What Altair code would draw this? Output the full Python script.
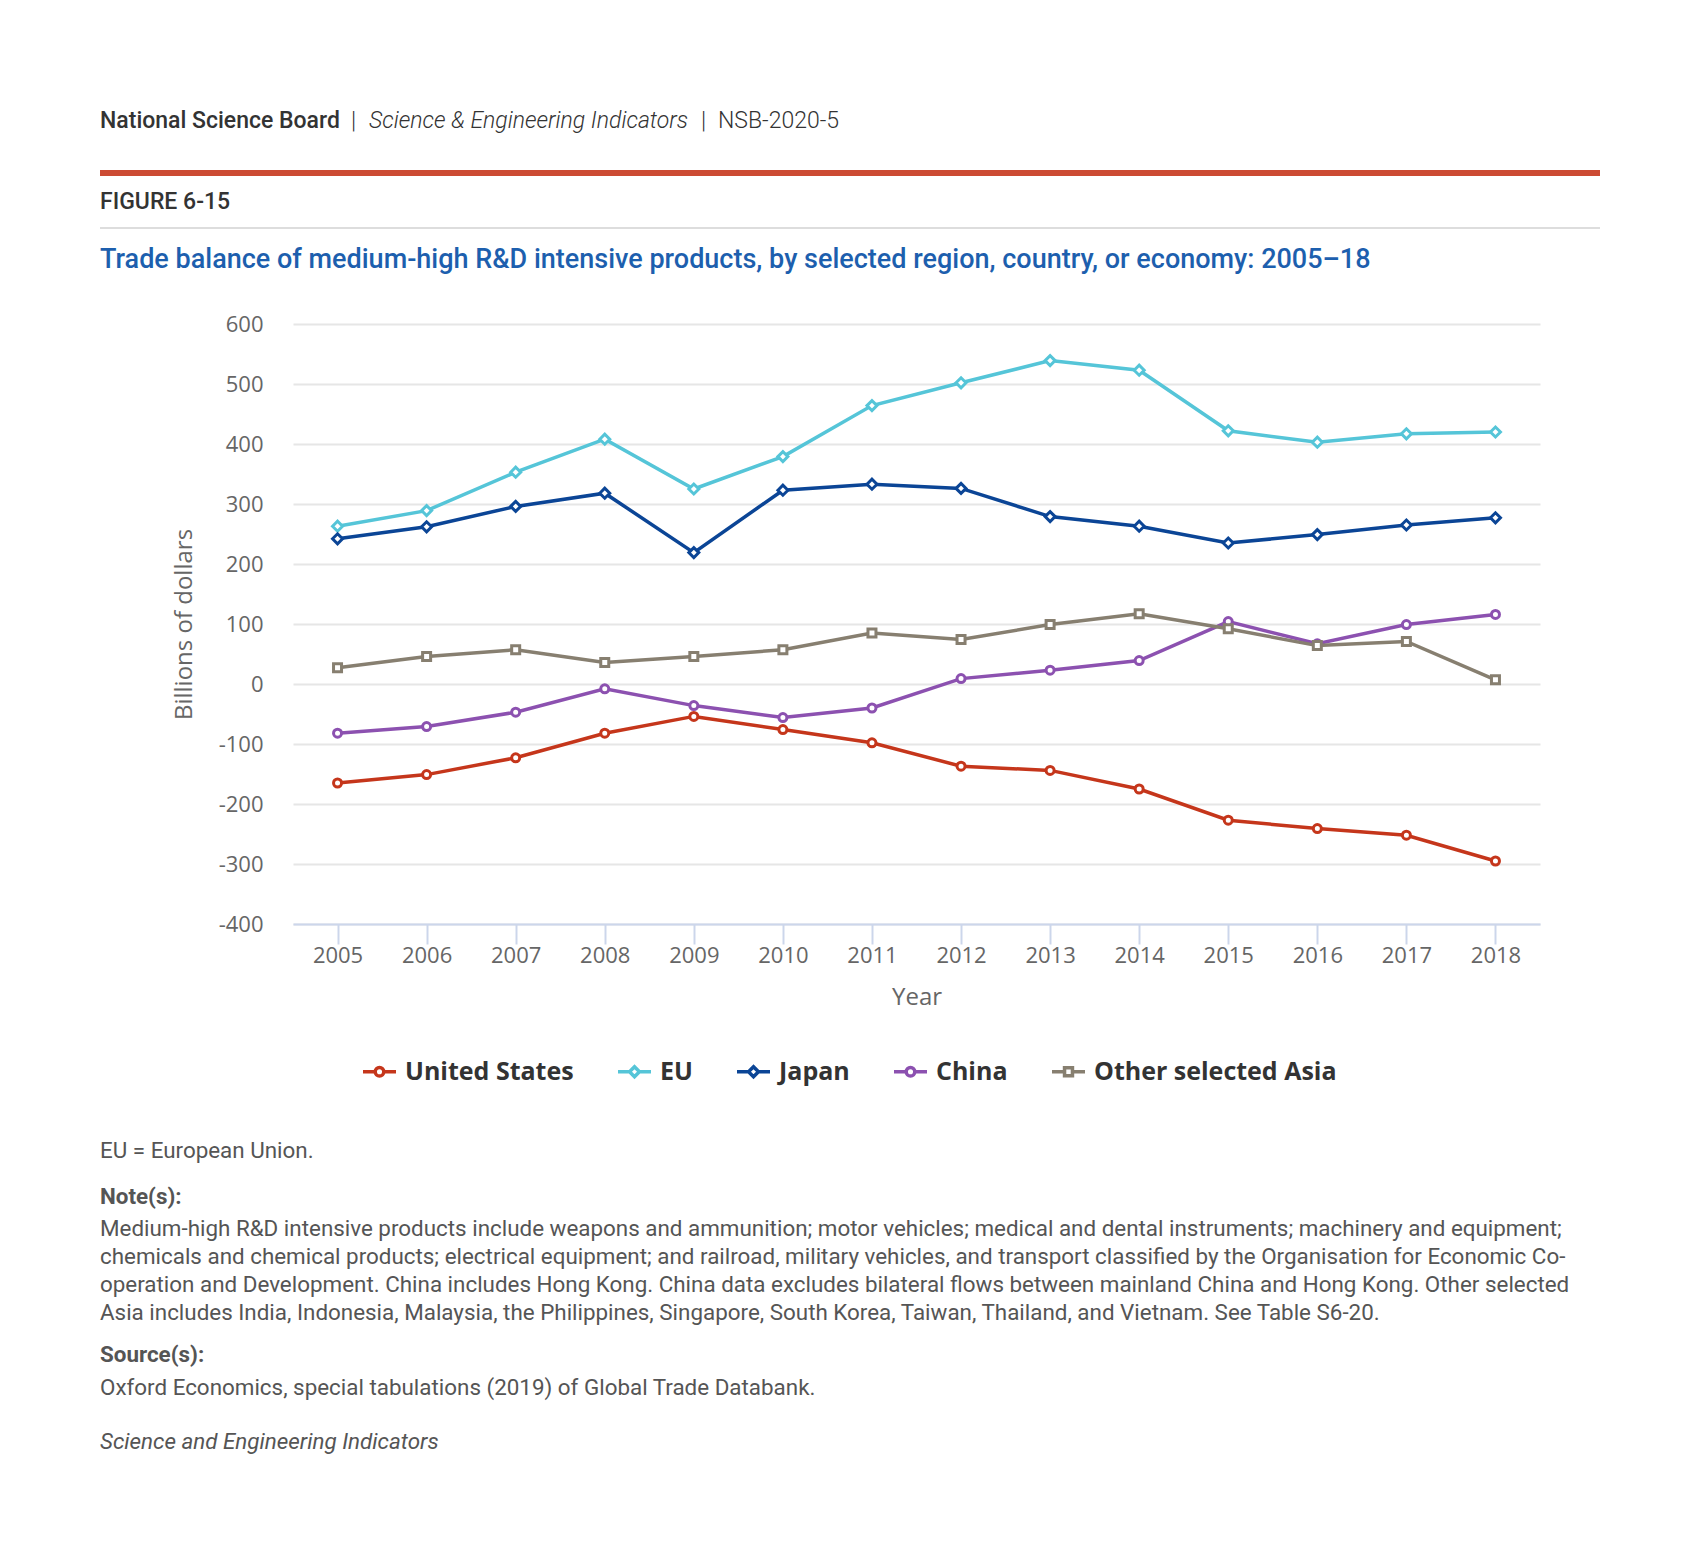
import altair as alt
import pandas as pd

# ---------------- data ----------------
years = [2005, 2006, 2007, 2008, 2009, 2010, 2011, 2012, 2013, 2014, 2015, 2016, 2017, 2018]
united_states = [-165, -151, -123, -82, -54, -76, -98, -137, -144, -175, -227, -241, -252, -295]
eu = [263, 289, 353, 408, 325, 379, 464, 502, 539, 523, 422, 403, 417, 420]
japan = [242, 262, 296, 318, 219, 323, 333, 326, 279, 263, 235, 249, 265, 277]
china = [-82, -71, -47, -8, -36, -56, -40, 9, 23, 39, 104, 67, 99, 116]
other_asia = [27, 46, 57, 36, 46, 57, 85, 74, 99, 117, 92, 64, 71, 7]

series_names = ["United States", "EU", "Japan", "China", "Other selected Asia"]
series_values = [united_states, eu, japan, china, other_asia]
series_colors = ["#c5361b", "#55c5d8", "#0b4596", "#8c51b0", "#877f70"]
y_ticks = [-400, -300, -200, -100, 0, 100, 200, 300, 400, 500, 600]

header_lines = ["National Science Board", "|", "Science & Engineering Indicators", "|", "NSB-2020-5"]
figure_label = "FIGURE 6-15"
chart_title = ("Trade balance of medium-high R&D intensive products, by selected region, "
               "country, or economy: 2005\u201318")
abbrev = "EU = European Union."
note_lines = [
    "Medium-high R&D intensive products include weapons and ammunition; motor vehicles; medical and dental instruments; machinery and equipment;",
    "chemicals and chemical products; electrical equipment; and railroad, military vehicles, and transport classified by the Organisation for Economic Co-",
    "operation and Development. China includes Hong Kong. China data excludes bilateral flows between mainland China and Hong Kong. Other selected",
    "Asia includes India, Indonesia, Malaysia, the Philippines, Singapore, South Korea, Taiwan, Thailand, and Vietnam. See Table S6-20.",
]
source_line = "Oxford Economics, special tabulations (2019) of Global Trade Databank."
footer_line = "Science and Engineering Indicators"

rows = []
for name, vals in zip(series_names, series_values):
    for yr, v in zip(years, vals):
        rows.append({"year": yr, "series": name, "value": v})
df = pd.DataFrame(rows)

# ---------------- layout ----------------
W, H = 1247, 600
OX, OY = 293, 324  # page position of plot origin


def px(x):
    return x - OX


def py(y):
    return y - OY


def txt(s, x, y, size, color, weight="normal", style="normal", font="Roboto", align="left"):
    return alt.Chart(pd.DataFrame({"t": [s]})).mark_text(
        align=align, baseline="middle", font=font, fontSize=size,
        fontWeight=weight, fontStyle=style, color=color
    ).encode(text="t:N", x=alt.value(px(x)), y=alt.value(py(y)))


def hline(x1, x2, y, color, width):
    return alt.Chart(pd.DataFrame({"a": [0]})).mark_rule(color=color, strokeWidth=width).encode(
        x=alt.value(px(x1)), x2=alt.value(px(x2)), y=alt.value(py(y)))


x_enc = alt.X(
    "year:O",
    scale=alt.Scale(type="point", padding=0.5),
    axis=alt.Axis(
        labelAngle=0, labelFont="Open Sans", labelFontSize=22, labelColor="#666666",
        labelPadding=1, tickSize=20, tickColor="#ccd6eb", tickWidth=2,
        domainColor="#ccd6eb", domainWidth=2, grid=False,
        title="Year", titleFont="Open Sans", titleFontSize=24, titleFontWeight="normal",
        titleColor="#666666", titleX=W / 2, titleY=73, titleBaseline="middle",
    ),
)
y_enc = alt.Y(
    "value:Q",
    scale=alt.Scale(domain=[-400, 600], nice=False, zero=False),
    axis=alt.Axis(
        values=y_ticks, labelExpr="datum.value + ''", labelFont="Open Sans",
        labelFontSize=22, labelColor="#666666", labelPadding=30, ticks=False, tickSize=0,
        domain=False, grid=True, gridColor="#e6e6e6", gridWidth=2,
        title="Billions of dollars", titleFont="Open Sans", titleFontSize=24,
        titleFontWeight="normal", titleColor="#666666", titleX=-109, titleY=H / 2,
        titleAngle=-90, titleBaseline="middle", titleAlign="center",
    ),
)

color_scale = alt.Scale(domain=series_names, range=series_colors)

base = alt.Chart(df)

# legend carrier layer (no rows after the filter; its legend comes from the explicit domains)
legend_paths = [
    "M-1,0L-0.26,0M0.26,0L1,0M-0.26,0A0.26,0.26,0,1,1,0.26,0A0.26,0.26,0,1,1,-0.26,0Z",
    "M-1,0L-0.3,0M0.3,0L1,0M-0.3,0L0,-0.3L0.3,0L0,0.3Z",
    "M-1,0L-0.3,0M0.3,0L1,0M-0.3,0L0,-0.3L0.3,0L0,0.3Z",
    "M-1,0L-0.26,0M0.26,0L1,0M-0.26,0A0.26,0.26,0,1,1,0.26,0A0.26,0.26,0,1,1,-0.26,0Z",
    "M-1,0L-0.24,0M0.24,0L1,0M-0.24,-0.24L0.24,-0.24L0.24,0.24L-0.24,0.24Z",
]
leg = alt.Legend(
    title=None, orient="none", legendX=68, legendY=729, direction="horizontal",
    labelFont="Open Sans", labelFontSize=25, labelFontWeight="bold", labelColor="#333333",
    labelLimit=600, symbolSize=1089, symbolStrokeWidth=3.5, symbolFillColor="white",
    symbolOpacity=1, columnPadding=37, labelOffset=7,
)
legend_layer = base.transform_filter("datum.value > 99999").mark_point(
    filled=True, fill="white", strokeWidth=3.5
).encode(
    x=x_enc, y=y_enc,
    stroke=alt.Stroke("series:N", scale=color_scale, legend=leg),
    shape=alt.Shape("series:N", scale=alt.Scale(domain=series_names, range=legend_paths), legend=leg),
)

lines = base.mark_line(strokeWidth=3.5).encode(
    x=x_enc, y=y_enc,
    stroke=alt.Stroke("series:N", scale=color_scale, legend=None),
    detail="series:N",
)

marker_layers = []
for shp, names, sz in [("circle", ["United States", "China"], 64),
                       ("diamond", ["EU", "Japan"], 100),
                       ("square", ["Other selected Asia"], 64)]:
    marker_layers.append(
        base.transform_filter(alt.FieldOneOfPredicate(field="series", oneOf=names))
        .mark_point(shape=shp, filled=True, fill="white", strokeWidth=3, size=sz, opacity=1)
        .encode(x=x_enc, y=y_enc,
                stroke=alt.Stroke("series:N", scale=color_scale, legend=None))
    )

# ---------------- text / decorations ----------------
HF = 23
texts = [
    txt(header_lines[0], 100, 121, HF, "#333333", weight=500),
    txt(header_lines[1], 351, 121, HF, "#333333", weight=300),
    txt(header_lines[2], 369, 121, HF, "#333333", weight=300, style="italic"),
    txt(header_lines[3], 701, 121, HF, "#333333", weight=300),
    txt(header_lines[4], 718, 121, HF, "#333333", weight=300),
    hline(100, 1600, 173, "#cc4b33", 6),
    txt(figure_label, 100, 202, 23, "#333333", weight=500),
    hline(100, 1600, 228, "#dddddd", 2),
    txt(chart_title, 100, 260, 27, "#1d5fae", weight=500),
]
FF = 22.4
texts += [
    txt(abbrev, 100, 1151, FF, "#555555"),
    txt("Note(s):", 100, 1197, FF, "#555555", weight="bold"),
]
for i, line in enumerate(note_lines):
    texts.append(txt(line, 100, 1229 + i * 28, FF, "#555555"))
texts += [
    txt("Source(s):", 100, 1355, FF, "#555555", weight="bold"),
    txt(source_line, 100, 1388, FF, "#555555"),
    txt(footer_line, 100, 1442, FF, "#555555", style="italic"),
]

chart = alt.layer(legend_layer, lines, *marker_layers, *texts).properties(
    width=W, height=H,
    autosize=alt.AutoSizeParams(type="none"),
    padding={"left": OX - 8, "top": OY - 8, "right": 1692 - OX - W, "bottom": 620},
).configure_view(stroke=None)

chart.save("out.html", embed_options={"renderer": "svg", "actions": False})
